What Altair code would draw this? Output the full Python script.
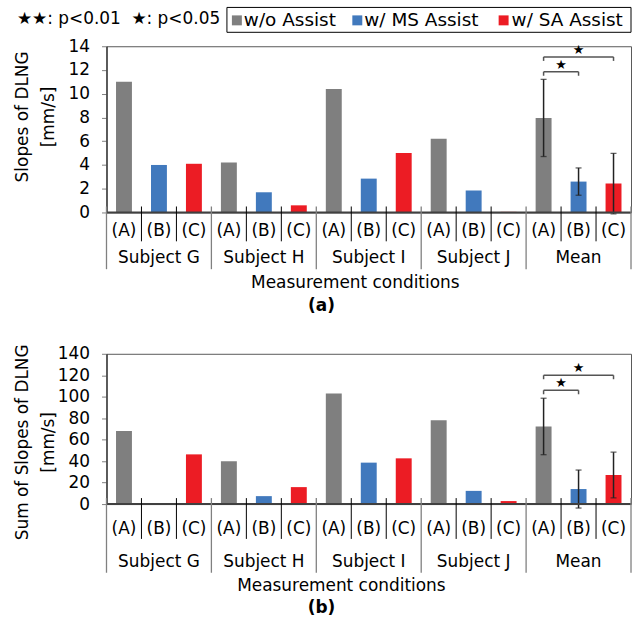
import altair as alt
import pandas as pd

FONT = "DejaVu Sans"

groups = ["Subject G", "Subject H", "Subject I", "Subject J", "Mean"]
cond_labels = ["(A)", "(B)", "(C)"]
cond_names = ["w/o Assist", "w/ MS Assist", "w/ SA Assist"]
colors = ["#7f7f7f", "#4179bd", "#ec1c24"]

slopes = [11.0, 4.0, 4.1, 4.2, 1.7, 0.6, 10.4, 2.85, 5.0, 6.2, 1.85, 0.05, 7.96, 2.6, 2.43]
slopes_err = [3.25, 1.15, 2.55]
sums = [68.0, 0.0, 46.3, 40.0, 7.4, 15.8, 103.0, 38.6, 42.6, 78.0, 12.3, 2.8, 72.3, 14.0, 27.0]
sums_err = [26.3, 17.7, 21.3]

sig_pairs = [("(A)", "(B)"), ("(A)", "(C)")]
sig_marks = ["★", "★"]
slopes_sig_levels = [11.85, 13.1]
sums_sig_levels = [106.0, 120.0]

legend_note = ["★★: p<0.01", "★: p<0.05"]

W = 527
PAL = alt.Scale(domain=cond_names, range=colors)


def build_tables(values, errs, levels):
    rows = []
    for gi, g in enumerate(groups):
        for ci, c in enumerate(cond_labels):
            i = gi * 3 + ci
            rows.append(dict(group=g, cond=c, name=cond_names[ci], idx=i,
                             pos=i + 0.5, value=values[i]))
    df = pd.DataFrame(rows)
    mean = df[df["group"] == "Mean"].copy()
    mean["err"] = errs
    mean["lo"] = mean["value"] - mean["err"]
    mean["hi"] = mean["value"] + mean["err"]
    pos_of = {c: p for c, p in zip(mean["cond"], mean["pos"])}
    br = pd.DataFrame([dict(a=pos_of[p[0]], b=pos_of[p[1]], lvl=l,
                            mid=(pos_of[p[0]] + pos_of[p[1]]) / 2, mark=m)
                       for p, l, m in zip(sig_pairs, levels, sig_marks)])
    br_ends = pd.DataFrame(
        [dict(x=r.a, lvl=r.lvl) for r in br.itertuples()] +
        [dict(x=r.b, lvl=r.lvl) for r in br.itertuples()])
    n = len(df)
    bounds = pd.DataFrame(dict(b=list(range(n + 1))))
    bounds["major"] = bounds["b"] % 3 == 0
    grp = pd.DataFrame(dict(group=groups, pos=[gi * 3 + 1.5 for gi in range(len(groups))]))
    return df, mean, br, br_ends, bounds, grp, n


def panel(values, errs, levels, ymax, ystep, ytitle, h, ty, offs, mt_x, tag):
    df, mean, br, br_ends, bounds, grp, n = build_tables(values, errs, levels)
    xs = alt.Scale(domain=[0, n], nice=False, zero=False, padding=0)
    ys = alt.Scale(domain=[0, ymax], nice=False, padding=0)
    yaxis = alt.Axis(values=list(range(0, ymax + 1, ystep)), grid=False, tickSize=5,
                     labelPadding=12, domainColor="#404040", domainWidth=1.5,
                     tickColor="#808080", labelFontSize=17, labelFont=FONT,
                     labelColor="black", labelOverlap=False, labelBound=False,
                     labelFlush=False, title=None)

    def X(f):
        return alt.X(f, scale=xs, axis=None)

    def Y(f):
        return alt.Y(f, scale=ys, axis=yaxis)

    base = alt.Chart(df)
    bars = base.mark_bar(size=16).encode(
        x=X("pos:Q"), y=Y("value:Q"),
        color=alt.Color("name:N", scale=PAL, legend=None))
    mb = alt.Chart(mean)
    err = mb.mark_rule(color="#222222", strokeWidth=1.5).encode(
        x=X("pos:Q"), y=Y("lo:Q"), y2="hi:Q")
    cap_lo = mb.mark_tick(orient="horizontal", size=6, thickness=1.3, color="#222222").encode(
        x=X("pos:Q"), y=Y("lo:Q"))
    cap_hi = mb.mark_tick(orient="horizontal", size=6, thickness=1.3, color="#222222").encode(
        x=X("pos:Q"), y=Y("hi:Q"))
    brc = alt.Chart(br)
    br_line = brc.mark_rule(color="#555555", strokeWidth=1.5).encode(
        x=X("a:Q"), x2="b:Q", y=Y("lvl:Q"))
    br_drop = alt.Chart(br_ends).mark_rule(color="#555555", strokeWidth=1.5, y2Offset=4).encode(
        x=X("x:Q"), y=Y("lvl:Q"), y2="lvl:Q")
    stars = brc.mark_text(font=FONT, fontSize=13, dy=-7, color="black").encode(
        x=X("mid:Q"), y=Y("lvl:Q"), text="mark:N")
    baseline = alt.Chart(pd.DataFrame(dict(x0=[0], x1=[n], y0=[0]))).mark_rule(
        color="#404040", strokeWidth=2).encode(x=X("x0:Q"), x2="x1:Q", y=Y("y0:Q"))
    bc = alt.Chart(bounds)
    sep_minor = bc.transform_filter("!datum.major").mark_rule(color="black", strokeWidth=1).encode(
        x=X("b:Q"), y=alt.value(h - 6), y2=alt.value(h + offs[1]))
    sep_major = bc.transform_filter("datum.major").mark_rule(color="#808080", strokeWidth=1.3).encode(
        x=X("b:Q"), y=alt.value(h - 6), y2=alt.value(h + offs[3]))
    sub_lbl = base.mark_text(font=FONT, fontSize=17, baseline="middle", color="black").encode(
        x=X("pos:Q"), y=alt.value(h + offs[0]), text="cond:N")
    grp_lbl = alt.Chart(grp).mark_text(font=FONT, fontSize=17, baseline="middle", color="black").encode(
        x=X("pos:Q"), y=alt.value(h + offs[2]), text="group:N")
    xtitle = alt.Chart(pd.DataFrame(dict(t=["Measurement conditions"]))).mark_text(
        font=FONT, fontSize=17, baseline="middle", color="black").encode(
        x=alt.value(mt_x), y=alt.value(h + offs[4]), text="t:N")
    tagt = alt.Chart(pd.DataFrame(dict(t=[tag]))).mark_text(
        font=FONT, fontSize=17, fontWeight="bold", baseline="middle", color="black").encode(
        x=alt.value(216), y=alt.value(h + offs[5]), text="t:N")
    ytl = alt.Chart(pd.DataFrame(dict(t=ytitle, x=[-84, -58]))).mark_text(
        font=FONT, fontSize=17, angle=270, align="center", baseline="middle",
        color="black").encode(x=alt.X("x:Q", scale=None), y=alt.value(ty), text="t:N")
    layers = [bars, err, cap_lo, cap_hi, br_line, br_drop, stars, baseline,
              sep_minor, sep_major, sub_lbl, grp_lbl, xtitle, tagt, ytl]
    return layers


# hand-drawn legend (box, swatches, labels) above panel (a)
leg_df = pd.DataFrame(dict(name=cond_names, sx=[131, 252, 399], tx=[138, 259, 407]))
leg_box = alt.Chart(pd.DataFrame(dict(k=[0]))).mark_rect(
    fill="white", stroke="black", strokeWidth=1).encode(
    x=alt.value(121), x2=alt.value(527), y=alt.value(-39), y2=alt.value(-14))
leg_sq = alt.Chart(leg_df).mark_square(size=100, opacity=1).encode(
    x=alt.X("sx:Q", scale=None), y=alt.value(-26),
    color=alt.Color("name:N", scale=PAL, legend=None))
leg_tx = alt.Chart(leg_df).mark_text(
    font=FONT, fontSize=18.5, align="left", baseline="middle", color="black").encode(
    x=alt.X("tx:Q", scale=None), y=alt.value(-26), text="name:N")
notes = alt.Chart(pd.DataFrame(dict(t=legend_note, x=[-90, 25]))).mark_text(
    font=FONT, fontSize=17, align="left", baseline="middle", color="black").encode(
    x=alt.X("x:Q", scale=None), y=alt.value(-27), text="t:N")

la = panel(slopes, slopes_err, slopes_sig_levels, 14, 2, ["Slopes of DLNG", "[mm/s]"],
           167, 71, [19, 29, 46, 57, 71, 94], 250, "(a)")
top = alt.layer(*la, leg_box, leg_sq, leg_tx, notes).properties(width=W, height=167)

lb = panel(sums, sums_err, sums_sig_levels, 140, 20, ["Sum of Slopes of DLNG", "[mm/s]"],
           151, 89, [25, 35, 58, 69, 82, 104], 236, "(b)")
bottom = alt.layer(*lb).properties(width=W, height=151)

chart = alt.vconcat(top, bottom, spacing=29).configure_view(
    stroke="#595959", strokeWidth=1).properties(
    padding={"left": 13, "top": 5, "right": 0, "bottom": 0})

chart.save("out.html", embed_options={"renderer": "svg", "actions": False})
